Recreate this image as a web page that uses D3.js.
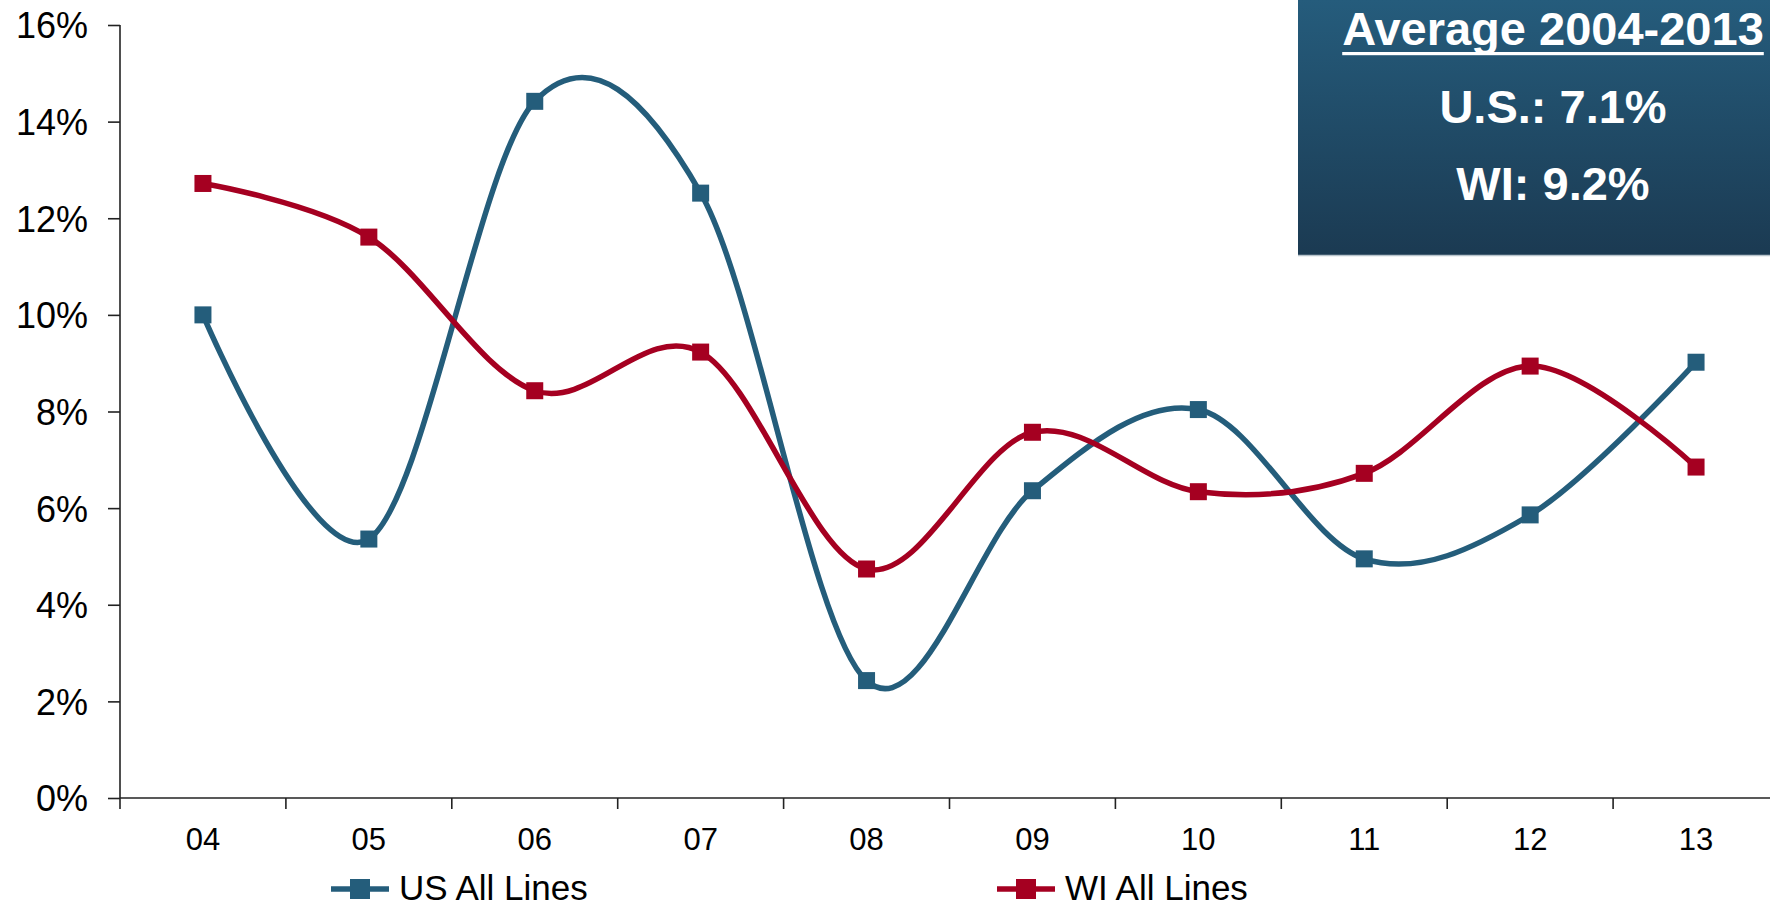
<!DOCTYPE html>
<html>
<head>
<meta charset="utf-8">
<script src="https://cdn.jsdelivr.net/npm/d3@7/dist/d3.min.js"></script>
<style>
  html, body { margin: 0; padding: 0; background: #fff; }
  svg { display: block; font-family: "Liberation Sans", Arial, sans-serif; }
</style>
</head>
<body>
<svg id="chart" width="1770" height="909"></svg>
<script>
// Years on the category axis
const years = ["04", "05", "06", "07", "08", "09", "10", "11", "12", "13"];
// Annual values, percent
const usValues = [10.0, 5.36, 14.42, 12.52, 2.43, 6.36, 8.04, 4.95, 5.86, 9.02];
const wiValues = [12.72, 11.61, 8.43, 9.23, 4.74, 7.57, 6.34, 6.72, 8.94, 6.85];
// Value axis ticks
const yTicks = [0, 2, 4, 6, 8, 10, 12, 14, 16];
// Series names
const seriesNames = ["US All Lines", "WI All Lines"];
// Average panel text
const avgTitle = "Average 2004-2013";
const avgLines = ["U.S.: 7.1%", "WI: 9.2%"];

const colors = { us: "#245d7b", wi: "#a50021" };

const svg = d3.select("#chart");

const plot = { left: 120, top: 25, bottom: 798, bandW: 165.9 };

const x = d3.scaleBand()
  .domain(years)
  .range([plot.left, plot.left + plot.bandW * years.length])
  .paddingInner(0).paddingOuter(0);

const y = d3.scaleLinear().domain([0, 16]).range([plot.bottom, plot.top]);

const cx = d => x(d) + x.bandwidth() / 2;

// Value axis
const yAxis = svg.append("g")
  .attr("transform", `translate(${plot.left},0)`)
  .call(d3.axisLeft(y).tickValues(yTicks).tickFormat(d => d + "%").tickSize(12).tickPadding(20));
yAxis.select(".domain").attr("stroke", "#222").attr("stroke-width", 1.6)
  .attr("d", `M0,${plot.top}V${plot.bottom}`);
yAxis.selectAll(".tick line").attr("stroke", "#222").attr("stroke-width", 1.6);
yAxis.selectAll(".tick text")
  .attr("fill", "#000").attr("font-size", 36).attr("dy", "0.36em")
  .attr("font-family", "'Liberation Sans', Arial, sans-serif");

// Category axis: ticks sit between categories
const boundaries = d3.range(years.length + 1).map(i => plot.left + i * plot.bandW);
const xAxis = svg.append("g").attr("transform", `translate(0,${plot.bottom})`);
xAxis.append("line")
  .attr("x1", plot.left).attr("x2", 1770)
  .attr("stroke", "#222").attr("stroke-width", 1.6);
xAxis.selectAll("line.tk").data(boundaries).join("line")
  .attr("class", "tk")
  .attr("x1", d => d).attr("x2", d => d)
  .attr("y1", 0).attr("y2", 11)
  .attr("stroke", "#222").attr("stroke-width", 1.6);
xAxis.selectAll("text").data(years).join("text")
  .attr("x", d => cx(d)).attr("y", 52)
  .attr("text-anchor", "middle")
  .attr("font-size", 31).attr("fill", "#000")
  .text(d => d);

// Smoothed series lines with square markers
const line = d3.line()
  .x((d, i) => cx(years[i]))
  .y(d => y(d))
  .curve(d3.curveCardinal.tension(0));

const series = [
  { name: seriesNames[0], values: usValues, color: colors.us },
  { name: seriesNames[1], values: wiValues, color: colors.wi }
];

const mk = 17;
series.forEach(s => {
  svg.append("path")
    .datum(s.values)
    .attr("d", line)
    .attr("fill", "none")
    .attr("stroke", s.color)
    .attr("stroke-width", 5.5)
    .attr("stroke-linejoin", "round");
  svg.append("g").selectAll("rect").data(s.values).join("rect")
    .attr("x", (d, i) => cx(years[i]) - mk / 2)
    .attr("y", d => y(d) - mk / 2)
    .attr("width", mk).attr("height", mk)
    .attr("fill", s.color);
});

// Legend
const legendItems = [
  { name: seriesNames[0], color: colors.us, x0: 331 },
  { name: seriesNames[1], color: colors.wi, x0: 997 }
];
const legY = 889;
legendItems.forEach(it => {
  const g = svg.append("g");
  g.append("line")
    .attr("x1", it.x0).attr("x2", it.x0 + 58)
    .attr("y1", legY).attr("y2", legY)
    .attr("stroke", it.color).attr("stroke-width", 5.5);
  g.append("rect")
    .attr("x", it.x0 + 29 - 10).attr("y", legY - 10)
    .attr("width", 20).attr("height", 20)
    .attr("fill", it.color);
  g.append("text")
    .attr("x", it.x0 + 68).attr("y", legY + 11)
    .attr("font-size", 35).attr("fill", "#000")
    .text(it.name);
});

// Average panel
const defs = svg.append("defs");
const grad = defs.append("linearGradient")
  .attr("id", "panelGrad").attr("x1", 0).attr("y1", 0).attr("x2", 0).attr("y2", 1);
grad.append("stop").attr("offset", "0%").attr("stop-color", "#255c7c");
grad.append("stop").attr("offset", "100%").attr("stop-color", "#1b3a52");

const panel = svg.append("g");
panel.append("rect")
  .attr("x", 1298).attr("y", 0).attr("width", 472).attr("height", 255)
  .attr("fill", "url(#panelGrad)");
panel.append("line")
  .attr("x1", 1298).attr("x2", 1770).attr("y1", 255.5).attr("y2", 255.5)
  .attr("stroke", "#b8c4cc").attr("stroke-width", 1.5);

const pcx = 1553;
const title = panel.append("text")
  .attr("x", pcx).attr("y", 45)
  .attr("text-anchor", "middle")
  .attr("font-size", 47).attr("font-weight", "bold").attr("fill", "#fff")
  .text(avgTitle);
const tw = title.node().getComputedTextLength();
panel.append("rect")
  .attr("x", pcx - tw / 2).attr("y", 52)
  .attr("width", tw).attr("height", 3.2)
  .attr("fill", "#fff");

panel.selectAll("text.avg").data(avgLines).join("text")
  .attr("class", "avg")
  .attr("x", pcx).attr("y", (d, i) => 123 + i * 77)
  .attr("text-anchor", "middle")
  .attr("font-size", 47).attr("font-weight", "bold").attr("fill", "#fff")
  .text(d => d);
</script>
</body>
</html>
